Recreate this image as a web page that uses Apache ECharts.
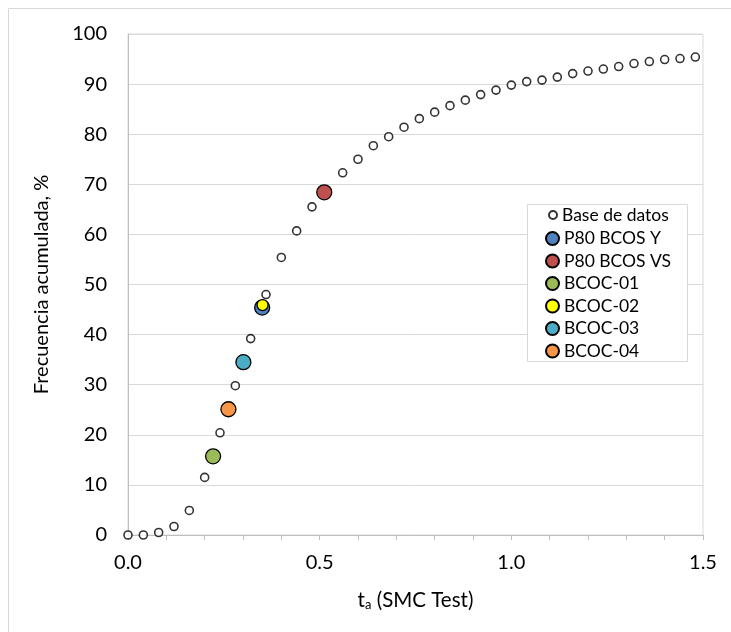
<!DOCTYPE html>
<html>
<head>
<meta charset="utf-8">
<script src="https://cdn.jsdelivr.net/npm/echarts@6/dist/echarts.min.js"></script>
<style>
  html, body { margin: 0; padding: 0; background: #fff; }
  #chart1 { width: 731px; height: 632px; }
</style>
</head>
<body>
<div id="chart1"></div>
<script>
// base de datos (t_a vs frecuencia acumulada)
var baseX = [0.00, 0.04, 0.08, 0.12, 0.16, 0.20, 0.24, 0.28, 0.32, 0.36,
             0.40, 0.44, 0.48, 0.52, 0.56, 0.60, 0.64, 0.68, 0.72, 0.76,
             0.80, 0.84, 0.88, 0.92, 0.96, 1.00, 1.04, 1.08, 1.12, 1.16,
             1.20, 1.24, 1.28, 1.32, 1.36, 1.40, 1.44, 1.48];
var baseY = [0.0, 0.0, 0.5, 1.7, 4.9, 11.5, 20.4, 29.8, 39.2, 48.0,
             55.4, 60.7, 65.5, 68.6, 72.3, 75.0, 77.7, 79.5, 81.4, 83.1,
             84.4, 85.7, 86.8, 87.9, 88.8, 89.8, 90.5, 90.8, 91.4, 92.1,
             92.6, 93.0, 93.5, 94.1, 94.5, 94.9, 95.1, 95.4];

// muestras
var sampleNames = ['P80 BCOS Y', 'P80 BCOS VS', 'BCOC-01', 'BCOC-02', 'BCOC-03', 'BCOC-04'];
var sampleX = [0.350, 0.512, 0.222, 0.351, 0.301, 0.262];
var sampleY = [45.4, 68.4, 15.7, 45.9, 34.5, 25.1];
var sampleColors = ['#4F81BD', '#C0504D', '#9BBB59', '#FFFF00', '#4BACC6', '#F79646'];
var sampleSizes = [15, 15, 15, 11, 15, 15];

var xTicks = ['0.0', '0.5', '1.0', '1.5'];

var FONT = 'Lato';

var myChart = echarts.init(document.getElementById('chart1'));

var series = [{
    name: 'Base de datos',
    type: 'scatter',
    symbol: 'circle',
    symbolSize: 8,
    z: 2,
    itemStyle: { color: '#ffffff', borderColor: '#000000', borderWidth: 1.6 },
    data: baseX.map(function (x, i) { return [x, baseY[i]]; })
}];
// orden de dibujo: amarillo encima del azul
var drawOrder = [0, 1, 2, 4, 5, 3];
drawOrder.forEach(function (i, k) {
    series.push({
        name: sampleNames[i],
        type: 'scatter',
        symbol: 'circle',
        symbolSize: sampleSizes[i],
        z: 3 + k,
        itemStyle: { color: sampleColors[i], borderColor: '#000000', borderWidth: 1.3, opacity: 1 },
        data: [[sampleX[i], sampleY[i]]]
    });
});

myChart.setOption({
    animation: false,
    backgroundColor: '#ffffff',
    textStyle: { fontFamily: FONT },
    graphic: [{
        type: 'rect',
        shape: { x: 8.5, y: 8.5, width: 760, height: 660 },
        style: { fill: null, stroke: '#d9d9d9', lineWidth: 1 },
        silent: true, z: -1
    }, {
        type: 'rect',
        shape: { x: 527.5, y: 204.5, width: 160, height: 157 },
        style: { fill: '#ffffff', stroke: '#d9d9d9', lineWidth: 1 },
        silent: true, z: 5
    }],
    grid: {
        left: 128, right: 28, top: 34, bottom: 97,
        show: true, borderColor: '#d9d9d9', borderWidth: 1
    },
    legend: [{
        data: ['Base de datos'],
        orient: 'vertical',
        left: 548, top: 206,
        padding: 0,
        itemWidth: 8, itemHeight: 8,
        z: 10,
        textStyle: { fontFamily: FONT, fontSize: 17.5, color: '#000', lineHeight: 18 }
    }, {
        data: sampleNames,
        orient: 'vertical',
        left: 545, top: 229.5,
        padding: 0,
        itemGap: 4.5,
        itemWidth: 13, itemHeight: 13,
        z: 10,
        textStyle: { fontFamily: FONT, fontSize: 17.5, color: '#000', lineHeight: 18 }
    }],
    xAxis: {
        type: 'value',
        min: 0, max: 1.5, interval: 0.1,
        name: '{t|t}{s|a}{t| (SMC Test)}',
        nameLocation: 'middle',
        nameGap: 54,
        nameTextStyle: {
            rich: {
                t: { fontFamily: FONT, fontSize: 20.5, color: '#000' },
                s: { fontFamily: FONT, fontSize: 13, color: '#000', verticalAlign: 'bottom', padding: [9, 0, 0, 0] }
            }
        },
        axisLine: { show: true, onZero: false, lineStyle: { color: '#bfbfbf', width: 1 } },
        axisTick: { show: true, inside: false, length: 5, lineStyle: { color: '#bfbfbf' } },
        axisLabel: {
            margin: 18,
            fontFamily: FONT, fontSize: 20, color: '#000',
            formatter: function (v) {
                var k = Math.round(v * 2);
                if (Math.abs(v * 2 - k) < 1e-6) return xTicks[k];
                return '';
            }
        },
        splitLine: { show: false }
    },
    yAxis: {
        type: 'value',
        min: 0, max: 100, interval: 10,
        name: 'Frecuencia acumulada, %',
        nameLocation: 'middle',
        nameGap: 76,
        nameRotate: 90,
        nameTextStyle: { fontFamily: FONT, fontSize: 20, color: '#000' },
        axisLine: { show: true, lineStyle: { color: '#bfbfbf', width: 1 } },
        axisTick: { show: false },
        axisLabel: { margin: 21, fontFamily: FONT, fontSize: 20, color: '#000' },
        splitLine: { show: true, lineStyle: { color: '#d9d9d9', width: 1 } }
    },
    series: series
});
</script>
</body>
</html>
